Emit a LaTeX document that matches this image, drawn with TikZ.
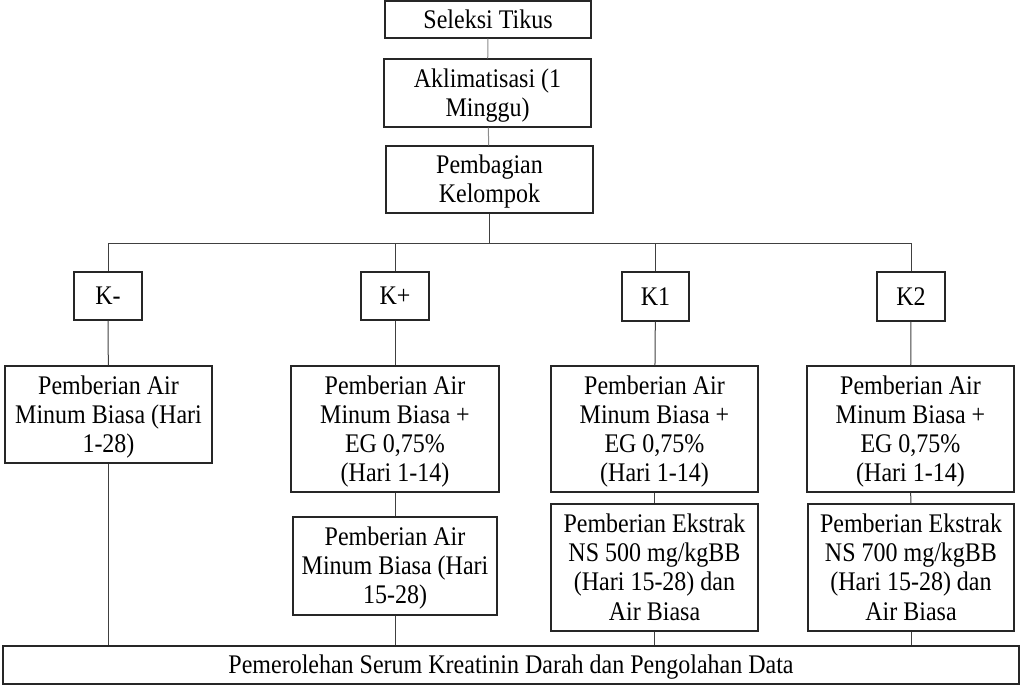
\documentclass[tikz,border=0pt]{standalone}
\usepackage{fontspec}
\usepackage{graphicx}
\setmainfont{Liberation Serif}
\newsavebox\txbox
\newcommand\tx[1]{\sbox\txbox{\scalebox{1}[1.12]{\begin{tabular}{@{}c@{}}#1\end{tabular}}}\raisebox{-3pt}[\ht\txbox][\dp\txbox]{\usebox\txbox}}
\begin{document}
\begin{tikzpicture}[x=1pt,y=-1pt,
  box/.style={draw=black!85,line width=1.1pt,inner sep=0pt,align=center,
    font=\fontsize{24}{26}\selectfont},
  link/.style={draw=black!75,line width=1pt},
  soft/.style={draw=black!45,line width=1pt}]
\useasboundingbox (0,0) rectangle (1021,685);
\node[box,minimum width=206,minimum height=37] (sel) at (488,19.5) {\tx{Seleksi Tikus}};
\node[box,minimum width=207,minimum height=68] (akl) at (487.5,93) {\tx{Aklimatisasi (1\\Minggu)}};
\node[box,minimum width=207,minimum height=67] (pem) at (489.5,179.5) {\tx{Pembagian\\Kelompok}};
\node[box,minimum width=68,minimum height=48] (km) at (108,296) {\tx{K-}};
\node[box,minimum width=68,minimum height=48] (kp) at (395,296) {\tx{K+}};
\node[box,minimum width=67,minimum height=49] (ka) at (655.5,296.5) {\tx{K1}};
\node[box,minimum width=68,minimum height=49] (kb) at (911,296.5) {\tx{K2}};
\node[box,minimum width=207,minimum height=97] (m1) at (108.5,414.5) {\tx{Pemberian Air\\Minum Biasa (Hari\\1-28)}};
\node[box,minimum width=208,minimum height=126] (p1) at (395,429) {\tx{Pemberian Air\\Minum Biasa +\\EG 0,75\%\\(Hari 1-14)}};
\node[box,minimum width=204,minimum height=98] (p2) at (395,566) {\tx{Pemberian Air\\Minum Biasa (Hari\\15-28)}};
\node[box,minimum width=207,minimum height=126] (a1) at (654.5,429) {\tx{Pemberian Air\\Minum Biasa +\\EG 0,75\%\\(Hari 1-14)}};
\node[box,minimum width=207,minimum height=127] (a2) at (654.5,567.5) {\tx{Pemberian Ekstrak\\NS 500 mg/kgBB\\(Hari 15-28) dan\\Air Biasa}};
\node[box,minimum width=207,minimum height=126] (b1) at (910.5,429) {\tx{Pemberian Air\\Minum Biasa +\\EG 0,75\%\\(Hari 1-14)}};
\node[box,minimum width=206,minimum height=127] (b2) at (911,567.5) {\tx{Pemberian Ekstrak\\NS 700 mg/kgBB\\(Hari 15-28) dan\\Air Biasa}};
\node[box,minimum width=1016,minimum height=38] (fin) at (511,665) {\tx{Pemerolehan Serum Kreatinin Darah dan Pengolahan Data}};
\coordinate (bus) at (489,243);
\draw[soft] (sel) -- (akl);
\draw[soft] (akl) -- (pem);
\draw[link] (pem.south) -- (pem.south |- bus);
\draw[link] (km.north |- bus) -- (kb.north |- bus);
\foreach \k in {km,kp,ka,kb} {\draw[link] (\k.north |- bus) -- (\k.north);}
\draw[link] (km) -- (m1);
\draw[link] (kp) -- (p1);
\draw[link] (ka) -- (a1);
\draw[link] (kb) -- (b1);
\draw[link] (p1) -- (p2);
\draw[link] (a1) -- (a2);
\draw[link] (b1) -- (b2);
\draw[link] (m1.south) -- (m1.south |- fin.north);
\draw[link] (p2.south) -- (p2.south |- fin.north);
\draw[link] (a2.south) -- (a2.south |- fin.north);
\draw[link] (b2.south) -- (b2.south |- fin.north);
\end{tikzpicture}
\end{document}
